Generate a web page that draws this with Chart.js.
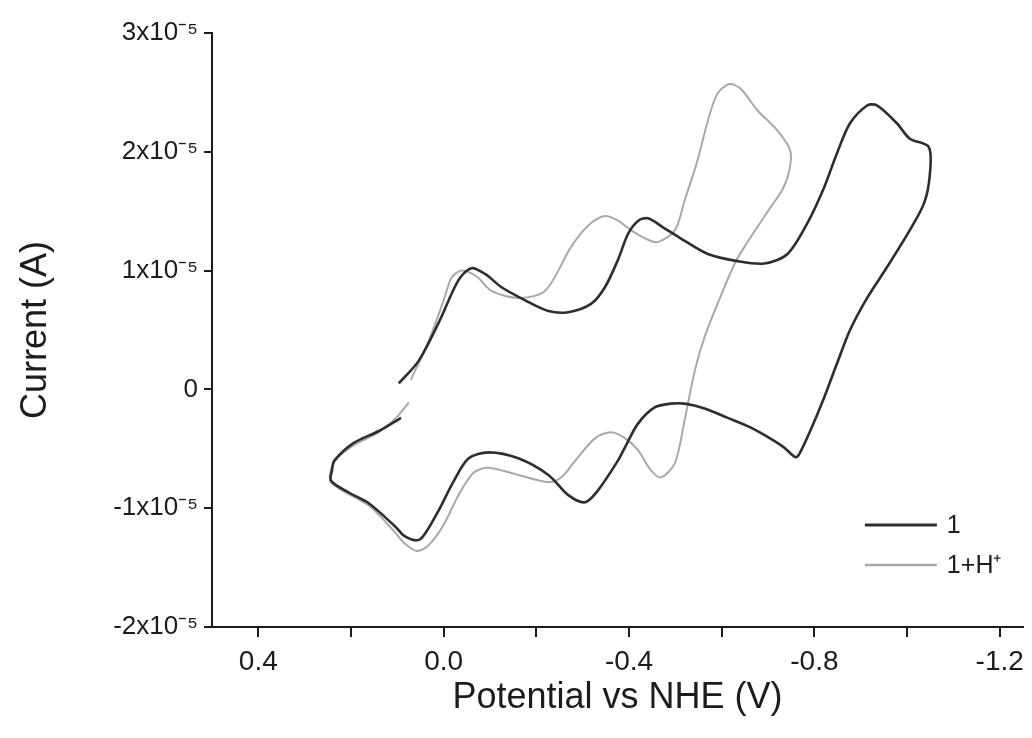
<!DOCTYPE html>
<html>
<head>
<meta charset="utf-8">
<script src="https://cdn.jsdelivr.net/npm/chart.js@4"></script>
<style>
  html, body { margin: 0; padding: 0; background: #fff; }
  #wrap { width: 1032px; height: 738px; position: relative; }
</style>
</head>
<body>
<div id="wrap"><canvas id="cv"></canvas></div>
<script>
// ─── Data (potential in V vs NHE, current in units of 1e-5 A) ─────────────

const seriesNames = ['1', '1+H\u207A'];

// complex 1: forward scan to -1.05 V then back
const potential1 = [
  0.097, 0.054, 0.011, -0.032, -0.060, -0.090, -0.125, -0.176, -0.226, -0.269,
  -0.318, -0.348, -0.376, -0.398, -0.420, -0.441, -0.475, -0.512, -0.570, -0.634,
  -0.692, -0.742, -0.785, -0.821, -0.849, -0.877, -0.914, -0.935, -0.978, -1.006,
  -1.047,
  -1.049, -1.037, -1.006, -0.957, -0.914, -0.877, -0.849, -0.821, -0.791, -0.768,
  -0.759, -0.735, -0.699, -0.662, -0.613, -0.563, -0.520, -0.490, -0.456, -0.419,
  -0.391, -0.376, -0.333, -0.305, -0.269, -0.226, -0.161, -0.097, -0.054, -0.022,
  0.011, 0.043, 0.058, 0.086, 0.103, 0.161, 0.204, 0.243, 0.241, 0.236,
  0.194, 0.140, 0.092,
];
const current1 = [
  0.05, 0.24, 0.56, 0.92, 1.02, 0.97, 0.86, 0.75, 0.66, 0.65,
  0.72, 0.86, 1.09, 1.31, 1.42, 1.44, 1.36, 1.27, 1.14, 1.08,
  1.06, 1.14, 1.40, 1.70, 1.99, 2.24, 2.39, 2.39, 2.24, 2.11,
  2.04,
  1.80, 1.57, 1.34, 1.03, 0.77, 0.50, 0.22, -0.07, -0.35, -0.54,
  -0.57, -0.49, -0.40, -0.32, -0.24, -0.16, -0.12, -0.12, -0.15, -0.29,
  -0.49, -0.60, -0.85, -0.95, -0.89, -0.72, -0.58, -0.53, -0.58, -0.77,
  -1.02, -1.23, -1.27, -1.23, -1.16, -0.96, -0.87, -0.77, -0.68, -0.60,
  -0.45, -0.35, -0.24,
];

// complex 1 with added acid: switch at -0.75 V
const potential2 = [
  0.071, 0.032, 0.000, -0.017, -0.039, -0.071, -0.103, -0.161, -0.219, -0.275,
  -0.312, -0.348, -0.376, -0.404, -0.435, -0.462, -0.499, -0.520, -0.548, -0.570,
  -0.591, -0.617, -0.641, -0.677, -0.720, -0.748,
  -0.746, -0.731, -0.705, -0.649, -0.628, -0.591, -0.563, -0.542, -0.520, -0.499,
  -0.469, -0.447, -0.419, -0.391, -0.361, -0.327, -0.284, -0.254, -0.226, -0.161,
  -0.097, -0.065, -0.032, 0.000, 0.032, 0.058, 0.086, 0.108, 0.161, 0.243,
  0.236, 0.194, 0.140, 0.103, 0.075,
];
const current2 = [
  0.08, 0.41, 0.75, 0.94, 1.00, 0.95, 0.83, 0.77, 0.83, 1.20,
  1.38, 1.46, 1.42, 1.34, 1.27, 1.24, 1.34, 1.59, 1.93, 2.26,
  2.49, 2.57, 2.53, 2.35, 2.18, 2.01,
  1.84, 1.68, 1.53, 1.20, 1.06, 0.72, 0.44, 0.16, -0.26, -0.62,
  -0.74, -0.68, -0.51, -0.41, -0.36, -0.41, -0.60, -0.74, -0.78, -0.72,
  -0.66, -0.70, -0.89, -1.14, -1.31, -1.36, -1.29, -1.19, -0.98, -0.78,
  -0.61, -0.47, -0.36, -0.24, -0.11,
];

const xTicks = [0.4, 0.2, 0.0, -0.2, -0.4, -0.6, -0.8, -1.0, -1.2];
const xLabelled = [0.4, 0.0, -0.4, -0.8, -1.2];
const yTicks = [-2, -1, 0, 1, 2, 3];

const COLORS = ['#2e2e2e', '#a9a9a9'];
const WIDTHS = [2.6, 2.0];
const INK = '#1c1c1c';
const FONT = "'Liberation Sans', Arial, sans-serif";

function toPoints(xs, ys) {
  return xs.map((x, i) => ({ x, y: ys[i] }));
}

// ─── Legend drawn inside the plot, bottom right ──────────────────────────

const insideLegend = {
  id: 'insideLegend',
  afterDraw(chart) {
    const { ctx, chartArea } = chart;
    const x0 = chartArea.right - 158;
    const x1 = chartArea.right - 86;
    ctx.save();
    ctx.font = `25px ${FONT}`;
    ctx.textBaseline = 'middle';
    chart.data.datasets.forEach((ds, i) => {
      const y = chartArea.bottom - 102 + i * 40;
      ctx.strokeStyle = ds.borderColor;
      ctx.lineWidth = ds.borderWidth + 0.5;
      ctx.beginPath();
      ctx.moveTo(x0, y);
      ctx.lineTo(x1, y);
      ctx.stroke();
      ctx.fillStyle = INK;
      ctx.fillText(ds.label, x1 + 10, y + 1);
    });
    ctx.restore();
  },
};

// ─── Chart ───────────────────────────────────────────────────────────────

new Chart(document.getElementById('cv'), {
  type: 'line',
  data: {
    datasets: [
      {
        label: seriesNames[0],
        data: toPoints(potential1, current1),
        borderColor: COLORS[0],
        borderWidth: WIDTHS[0],
        pointRadius: 0,
        tension: 0.3,
        fill: false,
        order: 1,
      },
      {
        label: seriesNames[1],
        data: toPoints(potential2, current2),
        borderColor: COLORS[1],
        borderWidth: WIDTHS[1],
        pointRadius: 0,
        tension: 0.3,
        fill: false,
        order: 2,
      },
    ],
  },
  options: {
    responsive: true,
    maintainAspectRatio: false,
    animation: false,
    layout: { padding: { top: 33, right: 6, left: 14, bottom: 18 } },
    plugins: {
      legend: { display: false },
      tooltip: { enabled: false },
    },
    scales: {
      x: {
        type: 'linear',
        reverse: true,
        min: -1.25,
        max: 0.5,
        afterBuildTicks: s => { s.ticks = xTicks.map(v => ({ value: v })); },
        afterFit: s => { s.height = 93; },
        border: { display: true, color: INK, width: 2 },
        grid: { drawOnChartArea: false, drawTicks: true, tickLength: 10, color: INK, lineWidth: 2 },
        ticks: {
          autoSkip: false,
          maxRotation: 0,
          padding: 8,
          color: INK,
          font: { family: FONT, size: 28 },
          callback: v => xLabelled.some(t => Math.abs(t - v) < 1e-9) ? v.toFixed(1) : '',
        },
        title: {
          display: true,
          text: 'Potential vs NHE (V)',
          color: INK,
          font: { family: FONT, size: 36 },
          padding: { top: 4, bottom: 0 },
        },
      },
      y: {
        type: 'linear',
        min: -2,
        max: 3,
        afterBuildTicks: s => { s.ticks = yTicks.map(v => ({ value: v })); },
        afterFit: s => { s.width = 198; },
        border: { display: true, color: INK, width: 2 },
        grid: { drawOnChartArea: false, drawTicks: true, tickLength: 8, color: INK, lineWidth: 2 },
        ticks: {
          autoSkip: false,
          padding: 6,
          color: INK,
          font: { family: FONT, size: 26 },
          callback: v => v === 0 ? '0' : `${v}x10\u207B\u2075`,
        },
        title: {
          display: true,
          text: 'Current (A)',
          color: INK,
          font: { family: FONT, size: 36 },
          padding: { top: 0, bottom: 4 },
        },
      },
    },
  },
  plugins: [insideLegend],
});
</script>
</body>
</html>
